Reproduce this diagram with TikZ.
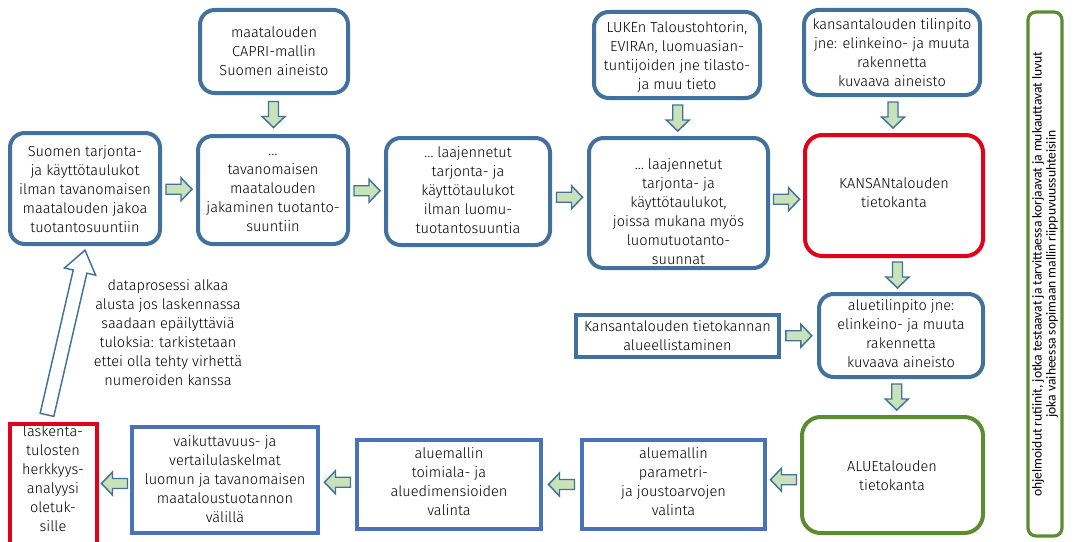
\documentclass[tikz,border=0pt]{standalone}
\usepackage{fontspec}
\IfFontExistsTF{Fira Sans Light}{\setmainfont{Fira Sans Light}}{\setmainfont{Fira Sans}}
\newfontfamily\calfont{Carlito}
\usetikzlibrary{fit,calc}
\definecolor{steel}{HTML}{41719C}
\definecolor{rblue}{HTML}{4A72B8}
\definecolor{rred}{HTML}{E2001A}
\definecolor{rgreen}{HTML}{5B8C32}
\definecolor{agreen}{HTML}{C9E2B8}
\begin{document}
\begin{tikzpicture}[x=0.75pt,y=-0.75pt,
  every node/.style={font=\fontsize{10.9}{14.25}\selectfont, align=center, inner sep=0pt},
  rbox/.style={draw=steel, line width=3pt, rounded corners=11pt, fill=white},
  redbox/.style={draw=rred, line width=3pt, rounded corners=13pt, fill=white},
  grnbox/.style={draw=rgreen, line width=3pt, rounded corners=14pt, fill=white},
  sqbox/.style={draw=rblue, line width=3pt, fill=white},
  sqsteel/.style={draw=steel, line width=2.4pt, fill=white},
  sqred/.style={draw=rred, line width=3pt, fill=white},
  notebox/.style={draw=rgreen, line width=2.4pt, rounded corners=6pt, fill=white},
  txt/.style={},
  arrowst/.style={draw=steel, fill=agreen, line width=1.1pt, line join=miter},
  hollowst/.style={draw=steel, fill=white, line width=1.1pt, line join=miter},
  pics/barrow/.style={code={\draw[arrowst] (-13,-5) -- (2,-5) -- (2,-11.5) -- (13,0) -- (2,11.5) -- (2,5) -- (-13,5) -- cycle;}},
  pics/bigarrow/.style={code={\draw[hollowst] (-84.5,-7) -- (62.5,-7) -- (62.5,-16) -- (84.5,0) -- (62.5,16) -- (62.5,7) -- (-84.5,7) -- cycle;}}
]
\useasboundingbox (0,0) rectangle (1077,542);

% boxes
\node[rbox, fit={(10,133) (160,244)}] (a) {};
\node[rbox, fit={(200,10) (348,93)}] (b) {};
\node[rbox, fit={(198,136) (348,244)}] (c) {};
\node[rbox, fit={(386,138) (550,245)}] (d) {};
\node[rbox, fit={(594,12) (760,98)}] (e) {};
\node[rbox, fit={(589,138) (768,268)}] (f) {};
\node[rbox, fit={(804,10) (980,95)}] (g) {};
\node[redbox, fit={(805,135) (983,256)}] (h) {};
\node[rbox, fit={(819,294) (983,377)}] (i) {};
\node[sqsteel, fit={(576,315) (779,357)}] (j) {};
\node[grnbox, fit={(802,417) (983,533)}] (k) {};
\node[sqbox, fit={(582,440) (765,529)}] (l) {};
\node[sqbox, fit={(357,440) (541,529)}] (m) {};
\node[sqbox, fit={(132,427) (318,533)}] (n) {};
\node[sqred, fit={(10,424) (97,550)}] (o) {};
\node[notebox, fit={(1028,12) (1062,536)}] (p) {};

% texts
\node[txt] at (85,191) (at) {\strut Suomen tarjonta-\\ja käyttötaulukot\\ilman tavanomaisen\\maatalouden jakoa\\tuotantosuuntiin\strut};
\node[txt] at (274,52.5) (bt) {\strut maatalouden\\CAPRI-mallin\\Suomen aineisto\strut};
\node[txt] at (273,189.5) (ct) {\strut …\\tavanomaisen\\maatalouden\\jakaminen tuotanto-\\suuntiin\strut};
\node[txt] at (468,191.5) (dt) {\strut … laajennetut\\tarjonta- ja\\käyttötaulukot\\ilman luomu-\\tuotantosuuntia\strut};
\node[txt] at (677,57.5) (et) {\strut LUKEn Taloustohtorin,\\EVIRAn, luomuasian-\\tuntijoiden jne tilasto-\\ja muu tieto\strut};
\node[txt] at (678.5,213) (ft) {\strut … laajennetut\\tarjonta- ja\\käyttötaulukot,\\joissa mukana myös\\luomutuotanto-\\suunnat\strut};
\node[txt] at (892,54) (gt) {\strut kansantalouden tilinpito\\jne: elinkeino- ja muuta\\rakennetta\\kuvaava aineisto\strut};
\node[txt] at (894,194) (ht) {\strut KANSANtalouden\\tietokanta\strut};
\node[txt] at (901,335.5) (it) {\strut aluetilinpito jne:\\elinkeino- ja muuta\\rakennetta\\kuvaava aineisto\strut};
\node[txt] at (677.5,337) (jt) {\strut Kansantalouden tietokannan\\alueellistaminen\strut};
\node[txt] at (892,477) (kt) {\strut ALUEtalouden\\tietokanta\strut};
\node[txt] at (673.5,483) (lt) {\strut aluemallin\\parametri-\\ja joustoarvojen\\valinta\strut};
\node[txt] at (449,483) (mt) {\strut aluemallin\\toimiala- ja\\aluedimensioiden\\valinta\strut};
\node[txt] at (225,480.5) (nt) {\strut vaikuttavuus- ja\\vertailulaskelmat\\luomun ja tavanomaisen\\maataloustuotannon\\välillä\strut};
\node[txt] at (53,480.5) (ot) {\strut laskenta-\\tulosten\\herkkyys-\\analyysi\\oletuk-\\sille\strut};
\node[rotate=90, font=\calfont\fontsize{10.2}{10.5}\selectfont] at (p.center) (pt) {ohjelmoidut rutiinit, jotka testaavat ja tarvittaessa korjaavat ja mukauttavat luvut\\joka vaiheessa sopimaan mallin riippuvuussuhteisiin};
\node[txt] at (168,334.5) (note) {\strut dataprosessi alkaa\\alusta jos laskennassa\\saadaan epäilyttäviä\\tuloksia: tarkistetaan\\ettei olla tehty virhettä\\numeroiden kanssa\strut};

% block arrows
\pic at ($(a.east)!0.5!(c.west)$) {barrow};
\pic[rotate=-90] at ($(b.south)!0.5!(c.north)$) {barrow};
\pic at ($(c.east)!0.5!(d.west)$) {barrow};
\pic at ($(d.east)!0.5!(f.west)$) {barrow};
\pic[rotate=-90] at ($(e.south)!0.5!(f.north)$) {barrow};
\pic at ($(f.east)!0.5!(h.west)$) {barrow};
\pic[rotate=-90] at ($(g.south)!0.5!(h.north)$) {barrow};
\pic[rotate=-90] at ($(h.south)!0.5!(i.north)$) {barrow};
\pic at ($(j.east)!0.5!(i.west)$) {barrow};
\pic[rotate=-90] at ($(i.south)!0.5!(k.north)$) {barrow};
\pic[rotate=180] at ($(k.west)!0.5!(l.east)$) {barrow};
\pic[rotate=180] at ($(l.west)!0.5!(m.east)$) {barrow};
\pic[rotate=180] at ($(m.west)!0.5!(n.east)$) {barrow};
\pic[rotate=180] at ($(n.west)!0.5!(o.east)$) {barrow};

% return arrow
\pic[rotate=77] at (66,332.5) {bigarrow};
\end{tikzpicture}
\end{document}
